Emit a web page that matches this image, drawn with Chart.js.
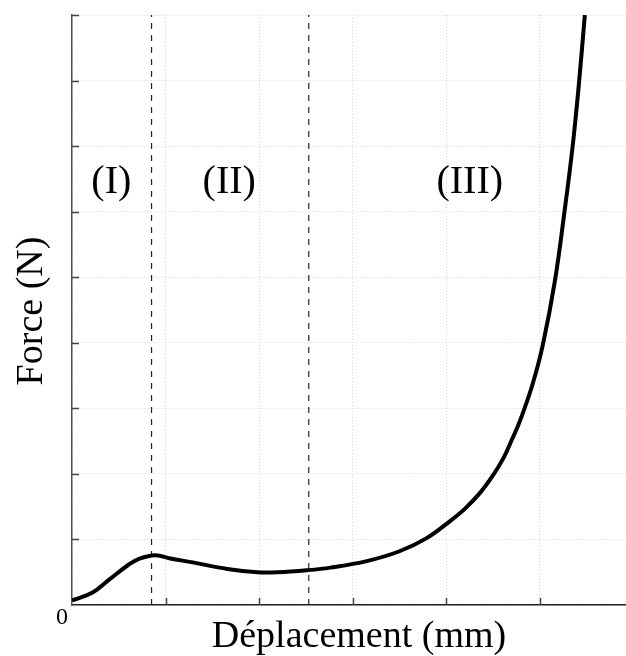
<!DOCTYPE html>
<html lang="fr">
<head>
    <meta charset="UTF-8">
    <script src="https://cdn.jsdelivr.net/npm/chart.js"></script>
    <title>Force - Déplacement</title>
    <style>
        body { margin: 0; background: #fff; }
        #myChart { display: block; }
    </style>
</head>
<body>
<canvas id="myChart" width="626" height="656"></canvas>

<script>
    // courbe force / deplacement
    const displacement = [0, 0.22, 0.40, 0.60, 0.71, 0.89, 1.05, 1.29, 1.66, 1.98, 2.20, 2.51, 2.76, 3.15, 3.50, 3.79, 4.04, 4.20, 4.36, 4.50, 4.61, 4.70, 4.79, 4.92, 5.03, 5.16, 5.26, 5.35, 5.42, 5.48];
    const force = [0.07, 0.19, 0.39, 0.61, 0.70, 0.76, 0.71, 0.65, 0.55, 0.50, 0.50, 0.53, 0.57, 0.67, 0.82, 1.02, 1.28, 1.47, 1.71, 1.98, 2.24, 2.52, 2.82, 3.36, 3.96, 4.94, 5.97, 7.0, 8.0, 9.0];

    // limites des phases (lignes pointillees)
    const phaseBounds = [0.85, 2.53];
    const phaseLabels = ['(I)', '(II)', '(III)'];
    const phaseLabelX = [0.42, 1.68, 4.25];
    const phaseLabelY = 6.29;

    const xMax = 5.92;
    const yMax = 9;

    const serif = "'Liberation Serif', 'DejaVu Serif', serif";

    const curve = displacement.map((d, i) => ({x: d, y: force[i]}));

    const datasets = [{
        label: 'Force',
        data: curve,
        borderColor: '#000',
        borderWidth: 4,
        pointRadius: 0,
        tension: 0.4,
        fill: false,
    }];

    phaseBounds.forEach(b => {
        datasets.push({
            label: 'limite',
            data: [{x: b, y: 0}, {x: b, y: yMax}],
            borderColor: '#222',
            borderWidth: 1.2,
            borderDash: [6, 6],
            pointRadius: 0,
            fill: false,
        });
    });

    // petits traits vers l'interieur + textes
    const decorations = {
        id: 'decorations',
        afterDraw(chart) {
            const ctx = chart.ctx;
            const xs = chart.scales.x;
            const ys = chart.scales.y;
            const area = chart.chartArea;

            ctx.save();
            ctx.strokeStyle = '#444';
            ctx.lineWidth = 1.5;
            ctx.beginPath();
            ys.ticks.forEach(t => {
                if (t.value === 0) return;
                const py = Math.round(ys.getPixelForValue(t.value)) + 0.5;
                ctx.moveTo(area.left, py);
                ctx.lineTo(area.left + 7, py);
            });
            xs.ticks.forEach(t => {
                if (t.value === 0) return;
                const px = Math.round(xs.getPixelForValue(t.value)) + 0.5;
                ctx.moveTo(px, area.bottom);
                ctx.lineTo(px, area.bottom - 7);
            });
            ctx.stroke();

            ctx.fillStyle = '#000';
            ctx.textAlign = 'center';
            ctx.textBaseline = 'alphabetic';

            ctx.font = '40px ' + serif;
            phaseLabels.forEach((txt, i) => {
                ctx.fillText(txt, xs.getPixelForValue(phaseLabelX[i]), ys.getPixelForValue(phaseLabelY));
            });

            ctx.font = '38px ' + serif;
            ctx.fillText('Déplacement (mm)', 359, 647);

            ctx.save();
            ctx.translate(42, 311);
            ctx.rotate(-Math.PI / 2);
            ctx.fillText('Force (N)', 0, 0);
            ctx.restore();

            ctx.font = '24px ' + serif;
            ctx.fillText('0', 62, 624);
            ctx.restore();
        }
    };

    const config = {
        type: 'line',
        data: {datasets: datasets},
        options: {
            responsive: false,
            animation: false,
            layout: {
                padding: {left: 72, right: 0, top: 15, bottom: 51}
            },
            plugins: {
                legend: {display: false},
                tooltip: {enabled: false},
            },
            scales: {
                x: {
                    type: 'linear',
                    min: 0,
                    max: xMax,
                    ticks: {display: false, stepSize: 1, includeBounds: false},
                    grid: {color: '#d8d8d8', lineWidth: 1, drawTicks: false},
                    border: {display: true, color: '#222', width: 1.5, dash: [1, 2]},
                },
                y: {
                    type: 'linear',
                    min: 0,
                    max: yMax,
                    ticks: {display: false, stepSize: 1},
                    grid: {color: '#d8d8d8', lineWidth: 1, drawTicks: false},
                    border: {display: true, color: '#555', width: 1.5, dash: [1, 2]},
                }
            }
        },
        plugins: [decorations]
    };

    const myChart = new Chart(document.getElementById('myChart'), config);
</script>
</body>
</html>
